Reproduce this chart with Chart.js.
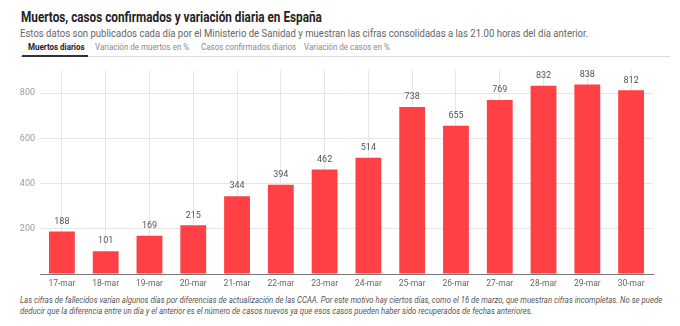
<!DOCTYPE html>
<html>
<head>
<meta charset="utf-8">
<script src="https://cdn.jsdelivr.net/npm/chart.js@4.4.1/dist/chart.umd.min.js"></script>
<style>
  html, body { margin: 0; padding: 0; background: #fff; }
  body { width: 680px; height: 326px; position: relative; overflow: hidden;
         font-family: "Roboto", sans-serif; }
  .narrow { transform-origin: 0 50%; transform: scaleX(0.84); }
  #title { position: absolute; left: 21px; top: 9px; font-size: 14px; font-weight: bold; color: #222; white-space: nowrap; }
  #subtitle { position: absolute; left: 20px; top: 26px; font-size: 11.5px; color: #666; white-space: nowrap; transform: scaleX(0.83); }
  #tabs { position: absolute; left: 20px; top: 41px; width: 650px; height: 15px; border-bottom: 1px solid #ddd; }
  #tabs span { position: absolute; top: 0; font-size: 9.5px; color: #888; white-space: nowrap; }
  #tabs span.on { color: #222; font-weight: bold; }
  #tabline { position: absolute; left: 2px; top: 14px; width: 66px; height: 2px; background: #333; }
  #chartWrap { position: absolute; left: 0; top: 60px; }
  #note { position: absolute; left: 20px; top: 295px; font-size: 9px; line-height: 11px; color: #555; font-style: italic; white-space: nowrap;
          transform-origin: 0 0; transform: scaleX(0.865); }
</style>
</head>
<body>
<div id="title" class="narrow">Muertos, casos confirmados y variación diaria en España</div>
<div id="subtitle" class="narrow">Estos datos son publicados cada día por el Ministerio de Sanidad y muestran las cifras consolidadas a las 21.00 horas del día anterior.</div>
<div id="tabs">
  <span class="on narrow" style="left:8px">Muertos diarios</span>
  <span class="narrow" style="left:75px">Variación de muertos en %</span>
  <span class="narrow" style="left:181px">Casos confirmados diarios</span>
  <span class="narrow" style="left:284px">Variación de casos en %</span>
  <div id="tabline"></div>
</div>
<div id="chartWrap"><canvas id="chart" width="680" height="230"></canvas></div>
<div id="note">Las cifras de fallecidos varían algunos días por diferencias de actualización de las CCAA. Por este motivo hay ciertos días, como el 16 de marzo, que muestran cifras incompletas. No se puede<br>deducir que la diferencia entre un día y el anterior es el número de casos nuevos ya que esos casos pueden haber sido recuperados de fechas anteriores.</div>
<script>
// Data
const days = ['17-mar', '18-mar', '19-mar', '20-mar', '21-mar', '22-mar', '23-mar',
              '24-mar', '25-mar', '26-mar', '27-mar', '28-mar', '29-mar', '30-mar'];
const deaths = [188, 101, 169, 215, 344, 394, 462, 514, 738, 655, 769, 832, 838, 812];
const yTicks = [200, 400, 600, 800];

// Draw the value over each bar
const barLabels = {
  id: 'barLabels',
  afterDatasetsDraw: function(chart) {
    const ctx = chart.ctx;
    const meta = chart.getDatasetMeta(0);
    ctx.save();
    ctx.font = '9px Roboto, sans-serif';
    ctx.fillStyle = '#555';
    ctx.textAlign = 'center';
    ctx.textBaseline = 'middle';
    meta.data.forEach((bar, i) => {
      ctx.fillText(deaths[i], bar.x, bar.y - 10);
    });
    ctx.restore();
  }
};

const chartElement = document.getElementById('chart').getContext('2d');
const deathsChart = new Chart(chartElement, {
  type: 'bar',
  data: {
    labels: days,
    datasets: [{
      data: deaths,
      backgroundColor: '#ff4045',
      borderWidth: 0,
      barPercentage: 0.59,
      categoryPercentage: 1
    }]
  },
  options: {
    responsive: false,
    animation: false,
    layout: { padding: { left: 0, right: 27, top: 9, bottom: 0 } },
    plugins: {
      legend: { display: false },
      tooltip: { enabled: false }
    },
    scales: {
      x: {
        grid: { color: '#e6e6e6', offset: false, drawTicks: false },
        border: { color: '#777', width: 1 },
        ticks: {
          color: '#666', padding: 5, maxRotation: 0, autoSkip: false,
          font: { family: 'Roboto, sans-serif', size: 8.5 }
        },
        afterFit: function(scale) { scale.height = 16; }
      },
      y: {
        min: 0,
        max: 900,
        border: { display: false },
        grid: {
          drawTicks: false,
          color: ctx => yTicks.includes(ctx.tick.value) ? '#e6e6e6' : 'transparent'
        },
        ticks: {
          stepSize: 200, padding: 5, color: '#999',
          font: { family: 'Roboto, sans-serif', size: 9 },
          callback: v => yTicks.includes(v) ? v : ''
        },
        afterFit: function(scale) { scale.width = 40; }
      }
    }
  },
  plugins: [barLabels]
});
</script>
</body>
</html>
